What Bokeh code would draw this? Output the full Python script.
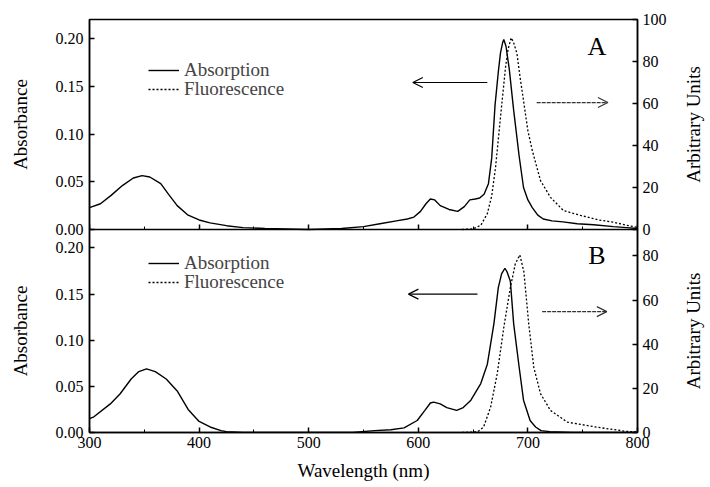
import math
from bokeh.plotting import figure
from bokeh.models import (Range1d, LinearAxis, Legend, LegendItem, Arrow, OpenHead,
                          Label, FixedTicker, SingleIntervalTicker, CustomJSTickFormatter)
from bokeh.layouts import row
from bokeh.embed import file_html
from bokeh.resources import INLINE

# ---------------- data ----------------
wl_abs_A = [300, 310, 320, 330, 340, 348, 355, 365, 372, 380, 390, 400, 410, 425, 440, 460,
            500, 530, 550, 565, 580, 590, 596, 602, 607, 611, 615, 620, 628, 636, 642, 647,
            652, 656, 660, 664, 667, 670, 673, 675, 677, 678, 680, 683, 687, 692, 696, 700,
            704, 709, 714, 722, 732, 745, 760, 778, 790, 800]
abs_A = [0.023, 0.027, 0.036, 0.046, 0.054, 0.0565, 0.055, 0.048, 0.037, 0.025, 0.015, 0.010,
         0.007, 0.004, 0.002, 0.001, 0.0, 0.001, 0.003, 0.006, 0.009, 0.011, 0.013, 0.019,
         0.027, 0.032, 0.031, 0.025, 0.021, 0.019, 0.024, 0.031, 0.032, 0.033, 0.037, 0.048,
         0.075, 0.130, 0.165, 0.185, 0.196, 0.199, 0.192, 0.168, 0.125, 0.077, 0.044, 0.031,
         0.023, 0.015, 0.011, 0.009, 0.008, 0.006, 0.005, 0.003, 0.002, 0.001]

wl_fl_A = [640, 650, 657, 663, 667, 670.5, 675, 679.6, 682, 684.7, 687, 690, 693, 696, 700,
           704, 711.5, 720.6, 732.5, 748, 765, 778, 790, 800]
fl_A = [0, 0.3, 2, 7.6, 16, 29.7, 53.5, 77.3, 86, 91.3, 89, 83.8, 72, 61.4, 47, 37.6, 23.3,
        15.3, 9, 6.7, 4.5, 3.5, 2, 1]

wl_abs_B = [300, 304, 319, 328, 338, 345, 352, 360, 370, 380, 390, 400, 410, 420, 425, 440,
            500, 540, 560, 575, 587, 599, 606, 611, 614, 620, 626, 635, 641, 648, 657, 663,
            669, 673, 676, 679, 681, 684, 687, 692, 696, 702, 707, 712, 720, 740, 800]
abs_B = [0.015, 0.017, 0.031, 0.042, 0.058, 0.066, 0.069, 0.066, 0.058, 0.045, 0.025, 0.012,
         0.006, 0.002, 0.001, 0.0, 0.0, 0.0, 0.002, 0.003, 0.005, 0.013, 0.024, 0.032, 0.033,
         0.031, 0.027, 0.024, 0.027, 0.035, 0.053, 0.074, 0.118, 0.157, 0.172, 0.178, 0.174,
         0.164, 0.118, 0.071, 0.035, 0.013, 0.006, 0.002, 0.001, 0.0, 0.0]

wl_fl_B = [640, 654, 659.5, 666, 672, 678, 684, 688.5, 692.6, 696.3, 700.8, 705.4, 711.5,
           720.6, 736, 763, 790, 800]
fl_B = [0, 0.3, 2.4, 11.5, 26.6, 47.6, 65.7, 76.4, 80.5, 73, 49, 29.5, 17.6, 10, 4.7, 2.4,
        0.5, 0.3]

# axis extents of each panel
abs_max = 0.22          # left axis top of each panel
fl_max_A = 100          # right axis top, panel A
fl_max_B = 92           # right axis top, panel B
abs_ticks = [0.0, 0.05, 0.10, 0.15, 0.20]
fl_ticks_A = [0, 20, 40, 60, 80, 100]
fl_ticks_B = [0, 20, 40, 60, 80]

# arrows: [x_start, x_end, y] in (wavelength, absorbance) coordinates
arrow_left_A = [663, 595, 0.154]
arrow_right_A = [708, 773, 0.133]
arrow_left_B = [654, 591, 0.150]
arrow_right_B = [713, 772, 0.131]

panel_letters = ["A", "B"]
letter_pos = [763, 0.192]

legend_labels = ["Absorption", "Fluorescence"]
x_title = "Wavelength (nm)"
y_title = "Absorbance"
y2_title = "Arbitrary Units"

SERIF = "Liberation Serif"

# ---------------- layout of the two stacked panels ----------------
H_A, H_B = 210, 203            # frame heights of panel A (top) and B (bottom)
H = H_A + H_B
TOP, BOTTOM = 19, 52

rng_absB = Range1d(0, abs_max * H / H_B)
rng_absA = Range1d(-abs_max * H_B / H_A, abs_max)
rng_flB = Range1d(0, fl_max_B * H / H_B)
rng_flA = Range1d(-fl_max_A * H_B / H_A, fl_max_A)


def to_range(v, src, dst):
    f = (v - src.start) / (src.end - src.start)
    return dst.start + f * (dst.end - dst.start)


def blank_fig(width):
    f = figure(frame_width=width, frame_height=H, x_range=Range1d(0, 1), y_range=rng_absB,
               output_backend="svg", toolbar_location=None,
               x_axis_location=None, y_axis_location=None,
               min_border_left=0, min_border_right=0,
               min_border_top=TOP, min_border_bottom=BOTTOM)
    f.extra_y_ranges = {"absA": rng_absA}
    f.xgrid.visible = False
    f.ygrid.visible = False
    f.outline_line_color = None
    f.background_fill_color = "white"
    f.border_fill_color = "white"
    return f


p = figure(frame_width=548, frame_height=H, x_range=Range1d(300, 800), y_range=rng_absB,
           output_backend="svg", toolbar_location=None,
           min_border_left=49, min_border_right=40, min_border_top=TOP,
           min_border_bottom=BOTTOM)
p.extra_y_ranges = {"absA": rng_absA, "flA": rng_flA, "flB": rng_flB}
p.xgrid.visible = False
p.ygrid.visible = False
p.outline_line_color = "black"
p.outline_line_width = 1.5
p.background_fill_color = "white"
p.border_fill_color = "white"


def style_axis(ax, size="16px"):
    ax.major_label_text_font = SERIF
    ax.major_label_text_font_size = size
    ax.major_label_text_color = "black"
    ax.axis_line_color = "black"
    ax.axis_line_width = 1.5
    ax.major_tick_in = 5
    ax.major_tick_out = 0
    ax.minor_tick_in = 3
    ax.minor_tick_out = 0
    ax.major_tick_line_width = 1.5
    ax.major_tick_line_color = "black"
    ax.minor_tick_line_color = "black"
    ax.axis_label_text_font = SERIF
    ax.axis_label_text_font_style = "normal"
    ax.axis_label_text_font_size = "19px"
    ax.axis_label_text_color = "black"


# ---------------- curves ----------------
rA_abs = p.line(wl_abs_A, abs_A, line_color="black", line_width=1.4, y_range_name="absA")
rA_fl = p.line(wl_fl_A, fl_A, line_color="black", line_width=1.3, line_dash="2 2",
               y_range_name="flA")
rB_abs = p.line(wl_abs_B, abs_B, line_color="black", line_width=1.4)
rB_fl = p.line(wl_fl_B, fl_B, line_color="black", line_width=1.3, line_dash="2 2",
               y_range_name="flB")

# ---------------- axes ----------------
xa = p.xaxis[0]
xa.ticker = SingleIntervalTicker(interval=100, num_minor_ticks=2)
style_axis(xa)
xa.axis_label = x_title
xa.major_label_standoff = 4
xa.axis_label_standoff = 9

# boundary between the panels: an x axis fixed at the top of panel B
split_abs = rng_absB.start + abs_max
mid = LinearAxis(fixed_location=split_abs,
                 ticker=SingleIntervalTicker(interval=100, num_minor_ticks=2),
                 formatter=CustomJSTickFormatter(code="return ''"))
style_axis(mid, size="1px")
mid.major_label_standoff = 0
p.add_layout(mid, "below")

# left axis: ticks of both panels on one axis
left_ticks = abs_ticks + [to_range(v, rng_absA, rng_absB) for v in abs_ticks]
ya = p.yaxis[0]
ya.ticker = FixedTicker(ticks=left_ticks, minor_ticks=[])
ya.formatter = CustomJSTickFormatter(
    args=dict(split=split_abs, b0=rng_absB.start, b1=rng_absB.end,
              a0=rng_absA.start, a1=rng_absA.end),
    code="""
    let v = tick;
    if (tick > split - 1e-6) { v = a0 + (tick - b0) / (b1 - b0) * (a1 - a0); }
    if (Math.abs(v) < 1e-6) { v = 0; }
    return v.toFixed(2);
    """)
style_axis(ya)
ya.major_label_standoff = 6

split_fl = rng_flB.start + fl_max_B
right_ticks = fl_ticks_B + [to_range(v, rng_flA, rng_flB) for v in fl_ticks_A]
ya2 = LinearAxis(y_range_name="flB", ticker=FixedTicker(ticks=right_ticks, minor_ticks=[]))
ya2.formatter = CustomJSTickFormatter(
    args=dict(split=split_fl, b0=rng_flB.start, b1=rng_flB.end,
              a0=rng_flA.start, a1=rng_flA.end),
    code="""
    let v = tick;
    if (tick > split - 1e-6) { v = a0 + (tick - b0) / (b1 - b0) * (a1 - a0); }
    return Math.round(v).toString();
    """)
style_axis(ya2)
ya2.major_label_standoff = 5
p.add_layout(ya2, "right")

# ---------------- axis titles of each panel (side strips) ----------------
left_strip = blank_fig(40)
right_strip = blank_fig(32)
for f, t in ((left_strip, y_title), (right_strip, y2_title)):
    for rname in ("absA", "default"):
        f.add_layout(Label(x=0.5, y=abs_max / 2, y_range_name=rname, text=t,
                           angle=math.pi / 2, text_align="center", text_baseline="middle",
                           text_font=SERIF, text_font_size="19px", text_color="black"))

# ---------------- legends (one entry each, placed individually) ----------------
legend_spec = [(rA_abs, legend_labels[0], 351), (rA_fl, legend_labels[1], 332),
               (rB_abs, legend_labels[0], 158), (rB_fl, legend_labels[1], 139)]
for rend, lab, ly in legend_spec:
    leg = Legend(items=[LegendItem(label=lab, renderers=[rend])],
                 location=(59, ly), label_text_font=SERIF, label_text_font_size="19px",
                 glyph_width=31, glyph_height=18, label_height=18, label_standoff=5,
                 padding=0, margin=0, spacing=0,
                 background_fill_alpha=0, border_line_color=None)
    p.add_layout(leg)

# ---------------- arrows and panel letters ----------------
for rname, al, ar, letter in (("absA", arrow_left_A, arrow_right_A, panel_letters[0]),
                              ("default", arrow_left_B, arrow_right_B, panel_letters[1])):
    p.add_layout(Arrow(end=OpenHead(size=10, line_width=1.2, line_color="black"),
                       x_start=al[0], x_end=al[1], y_start=al[2], y_end=al[2],
                       y_range_name=rname, line_width=1.2, line_color="black"))
    p.add_layout(Arrow(end=OpenHead(size=10, line_width=1.2, line_color="#333333"),
                       x_start=ar[0], x_end=ar[1], y_start=ar[2], y_end=ar[2],
                       y_range_name=rname, line_width=1.2, line_color="#333333",
                       line_dash="4 1"))
    p.add_layout(Label(x=letter_pos[0], y=letter_pos[1], y_range_name=rname, text=letter,
                       text_align="center", text_baseline="middle", text_font=SERIF,
                       text_font_size="26px", text_color="black"))

layout = row(left_strip, p, right_strip, spacing=0)
open("out.html", "w").write(file_html(layout, INLINE))
